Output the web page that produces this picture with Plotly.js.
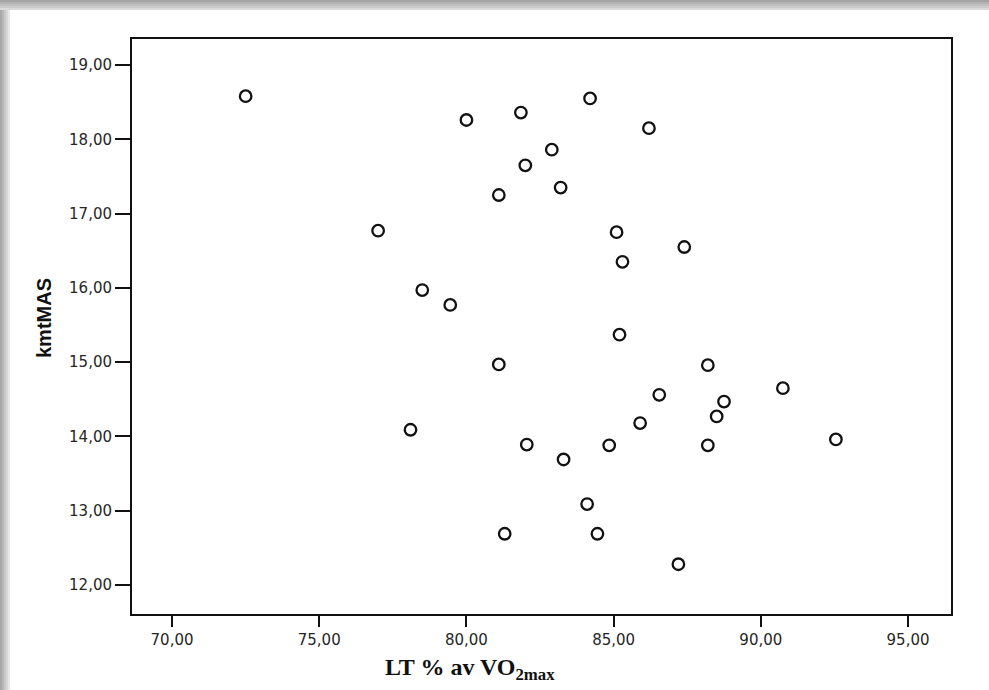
<!DOCTYPE html>
<html>
<head>
<meta charset="utf-8">
<script src="https://cdn.plot.ly/plotly-3.0.1.min.js"></script>
<style>
  html, body { margin: 0; padding: 0; background: #ffffff; }
  #chart { width: 989px; height: 690px; }
</style>
</head>
<body>
<div id="chart"></div>
<script>
// LT % av VO2max (x) vs kmtMAS (y)
var ltPercent = [72.5, 80.0, 81.85, 84.2, 86.2, 82.9, 82.0, 83.2, 81.1, 77.0,
                 85.1, 87.4, 85.3, 78.5, 79.45, 85.2, 81.1, 88.2, 90.75, 86.55,
                 88.75, 88.5, 85.9, 78.1, 82.05, 84.85, 88.2, 92.55, 83.3, 84.1,
                 81.3, 84.45, 87.2];
var kmtMAS = [18.58, 18.26, 18.36, 18.55, 18.15, 17.86, 17.65, 17.35, 17.25, 16.77,
              16.75, 16.55, 16.35, 15.97, 15.77, 15.37, 14.97, 14.96, 14.65, 14.56,
              14.47, 14.27, 14.18, 14.09, 13.89, 13.88, 13.88, 13.96, 13.69, 13.09,
              12.69, 12.69, 12.28];

var xTickVals = [70, 75, 80, 85, 90, 95];
var xTickText = ["70,00", "75,00", "80,00", "85,00", "90,00", "95,00"];
var yTickVals = [12, 13, 14, 15, 16, 17, 18, 19];
var yTickText = ["12,00", "13,00", "14,00", "15,00", "16,00", "17,00", "18,00", "19,00"];

var W = 989, H = 690;
var M = {l: 132, r: 38, t: 39, b: 76};
var PW = W - M.l - M.r, PH = H - M.t - M.b;
function px(p) { return (p - M.l) / PW; }
function py(p) { return (H - M.b - p) / PH; }

// scanned-page shadow along the top and left edges
var shapes = [];
var topGrays = ["#a4a4a4", "#b2b2b2", "#bfbfbf", "#cbcbcb", "#dadada"];
topGrays.forEach(function (c, i) {
  shapes.push({type: "rect", xref: "paper", yref: "paper", layer: "below",
    x0: px(0), x1: px(W), y0: py(i * 2 + 2), y1: py(i * 2),
    fillcolor: c, line: {width: 0}});
});
var leftGrays = ["#a8a8a8", "#b8b8b8", "#c8c8c8", "#d8d8d8", "#e8e8e8"];
leftGrays.forEach(function (c, i) {
  shapes.push({type: "rect", xref: "paper", yref: "paper", layer: "below",
    x0: px(i * 2), x1: px(i * 2 + 2), y0: py(H), y1: py(10),
    fillcolor: c, line: {width: 0}});
});

var trace = {
  x: ltPercent,
  y: kmtMAS,
  type: "scatter",
  mode: "markers",
  marker: {symbol: "circle-open", size: 11.5, color: "#111111", line: {width: 2.3, color: "#111111"}},
  hoverinfo: "x+y"
};

var tickFont = {family: "DejaVu Sans, Liberation Sans, sans-serif", size: 15, color: "#262626"};

var layout = {
  width: W, height: H,
  margin: M,
  paper_bgcolor: "#ffffff",
  plot_bgcolor: "#ffffff",
  showlegend: false,
  shapes: shapes,
  xaxis: {
    range: [68.64, 96.46],
    tickmode: "array", tickvals: xTickVals, ticktext: xTickText,
    ticks: "outside", ticklen: 11, tickwidth: 2, tickcolor: "#111111",
    showgrid: false, zeroline: false,
    showline: true, mirror: true, linecolor: "#111111", linewidth: 2,
    tickfont: tickFont
  },
  yaxis: {
    range: [11.61, 19.35],
    tickmode: "array", tickvals: yTickVals, ticktext: yTickText,
    ticks: "outside", ticklen: 15, tickwidth: 2, tickcolor: "#111111",
    showgrid: false, zeroline: false,
    showline: true, mirror: true, linecolor: "#111111", linewidth: 2,
    tickfont: tickFont
  },
  annotations: [
    {
      text: "kmtMAS", xref: "paper", yref: "paper",
      x: px(44), y: py(318), xanchor: "center", yanchor: "middle",
      textangle: -90, showarrow: false,
      font: {family: "Liberation Sans, Arial, sans-serif", size: 20, color: "#111111", weight: "bold"}
    },
    {
      text: "<b>LT % av VO<sub>2max</sub></b>", xref: "paper", yref: "paper",
      x: px(470), y: py(669), xanchor: "center", yanchor: "middle",
      showarrow: false,
      font: {family: "Liberation Serif, Times New Roman, serif", size: 24, color: "#111111"}
    }
  ]
};

Plotly.newPlot("chart", [trace], layout, {displayModeBar: false, staticPlot: true});
</script>
</body>
</html>
